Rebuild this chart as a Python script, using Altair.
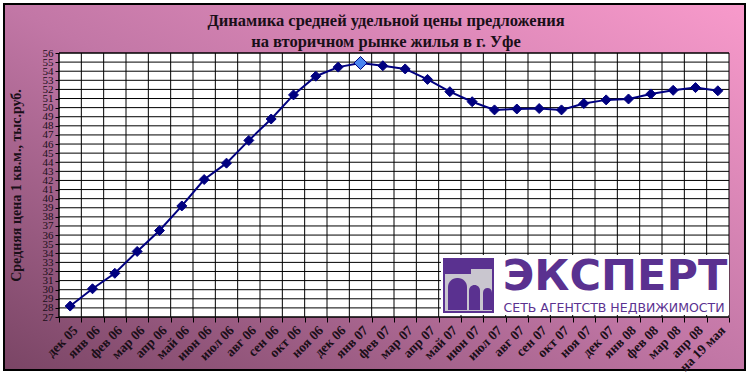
import altair as alt
import pandas as pd

months = ["дек 05", "янв 06", "фев 06", "мар 06", "апр 06", "май 06", "июн 06", "июл 06",
          "авг 06", "сен 06", "окт 06", "ноя 06", "дек 06", "янв 07", "фев 07", "мар 07",
          "апр 07", "май 07", "июн 07", "июл 07", "авг 07", "сен 07", "окт 07", "ноя 07",
          "дек 07", "янв 08", "фев 08", "мар 08", "апр 08", "на 19 мая"]
prices = [28.2, 30.1, 31.8, 34.2, 36.5, 39.2, 42.1, 43.9,
          46.4, 48.75, 51.4, 53.45, 54.45, 54.9, 54.6, 54.25,
          53.1, 51.75, 50.65, 49.75, 49.85, 49.9, 49.75, 50.45,
          50.85, 50.95, 51.5, 51.9, 52.2, 51.85]
y_ticks = list(range(27, 57))
highlight_month = "янв 07"

title_lines = ["Динамика средней удельной цены предложения", "на вторичном рынке жилья в г. Уфе"]
y_title = "Средняя цена 1 кв.м., тыс.руб."
logo_word = "ЭКСПЕРТ"
logo_sub = "СЕТЬ АГЕНТСТВ НЕДВИЖИМОСТИ"

df = pd.DataFrame({"month": months, "price": prices})
one = pd.DataFrame({"a": [0]})

W, H = 670, 264
SERIF = "Liberation Serif"
TXT = "#1a0f18"
NAVY = "#000080"
PURPLE = "#5a3190"

yscale = alt.Scale(domain=[27, 56], nice=False, zero=False)
xscale = alt.Scale(type="band", paddingInner=0, paddingOuter=0)

x_axis = alt.Axis(title=None, labelAngle=-45, labelFont=SERIF, labelFontSize=13.5,
                  labelFontWeight="bold", labelColor=TXT, tickBand="extent",
                  tickColor="black", tickSize=5, domain=False, grid=False, zindex=1,
                  labelPadding=1)
y_axis = alt.Axis(title=y_title, values=y_ticks, labelFont=SERIF, labelFontSize=11,
                  labelColor=TXT, tickColor="black", tickSize=4, domain=False, grid=False,
                  zindex=1, labelOverlap=False, labelPadding=2,
                  titleFont=SERIF, titleFontSize=14, titleFontWeight="bold", titleColor=TXT,
                  titleAngle=-90, titleX=-43, titleY=132, titleAlign="center",
                  titleBaseline="middle")


def xenc(bp):
    return alt.X("month:N", sort=months, scale=xscale, axis=x_axis, bandPosition=bp)


def yenc():
    return alt.Y("price:Q", scale=yscale, axis=y_axis)


grad = alt.Gradient(gradient="linear",
                    stops=[alt.GradientStop(color="#7a4565", offset=0),
                           alt.GradientStop(color="#c277a6", offset=0.5),
                           alt.GradientStop(color="#f89acb", offset=1)],
                    x1=0, y1=1, x2=1, y2=0)

bg = alt.Chart(one).mark_rect(fill=grad, stroke="black", strokeWidth=2).encode(
    x=alt.value(-55), x2=alt.value(686), y=alt.value(-49), y2=alt.value(317))

plot_bg = alt.Chart(one).mark_rect(fill="white").encode(
    x=alt.value(0), x2=alt.value(W), y=alt.value(0), y2=alt.value(H))

hrules = alt.Chart(pd.DataFrame({"price": y_ticks})).mark_rule(
    color="black", strokeWidth=1).encode(y=yenc())

vrules = alt.Chart(pd.DataFrame({"month": months})).mark_rule(
    color="black", strokeWidth=1).encode(x=xenc(0))

frame = alt.Chart(one).mark_rect(fill="transparent", stroke="black", strokeWidth=1).encode(
    x=alt.value(0), x2=alt.value(W), y=alt.value(0), y2=alt.value(H))

line = alt.Chart(df).mark_line(color=NAVY, strokeWidth=2).encode(x=xenc(0.5), y=yenc())

is_hl = alt.datum.month == highlight_month
points = alt.Chart(df).mark_point(shape="diamond", filled=True, opacity=1).encode(
    x=xenc(0.5), y=yenc(),
    fill=alt.condition(is_hl, alt.value("#4a86f0"), alt.value(NAVY)),
    size=alt.condition(is_hl, alt.value(170), alt.value(100)),
    stroke=alt.value(NAVY), strokeWidth=alt.value(1))

# logo
logo_box = alt.Chart(one).mark_rect(fill="white").encode(
    x=alt.value(382), x2=alt.value(W), y=alt.value(202), y2=alt.value(262))
icon = alt.Chart(one).mark_rect(fill="#c9c6cf", stroke=PURPLE, strokeWidth=2).encode(
    x=alt.value(385), x2=alt.value(434), y=alt.value(206), y2=alt.value(259))
icon_top = alt.Chart(one).mark_rect(fill=PURPLE).encode(
    x=alt.value(385), x2=alt.value(434), y=alt.value(206), y2=alt.value(216))
icon_top2 = alt.Chart(one).mark_rect(fill=PURPLE).encode(
    x=alt.value(385), x2=alt.value(412), y=alt.value(216), y2=alt.value(221))
arch1 = alt.Chart(one).mark_rect(fill=PURPLE, cornerRadiusTopLeft=9, cornerRadiusTopRight=9).encode(
    x=alt.value(389), x2=alt.value(408), y=alt.value(225), y2=alt.value(257))
arch2 = alt.Chart(one).mark_rect(fill=PURPLE, cornerRadiusTopLeft=6, cornerRadiusTopRight=6).encode(
    x=alt.value(410), x2=alt.value(421), y=alt.value(232), y2=alt.value(257))
arch3 = alt.Chart(one).mark_rect(fill=PURPLE, cornerRadiusTopLeft=5, cornerRadiusTopRight=5).encode(
    x=alt.value(424), x2=alt.value(433), y=alt.value(235), y2=alt.value(257))
word = alt.Chart(one).mark_text(text=logo_word, font="DejaVu Sans", fontSize=43,
                                fontWeight="bold", color=PURPLE, align="center",
                                baseline="alphabetic").encode(
    x=alt.value(556), y=alt.value(237))
sub = alt.Chart(one).mark_text(text=logo_sub, font="DejaVu Sans", fontSize=12.5,
                               color=PURPLE, align="center", baseline="alphabetic").encode(
    x=alt.value(555), y=alt.value(259))

chart = alt.layer(bg, plot_bg, hrules, vrules, frame, line, points,
                  logo_box, icon, icon_top, icon_top2, arch1, arch2, arch3, word, sub).properties(
    width=W, height=H,
    title=alt.TitleParams(text=title_lines, font=SERIF, fontSize=16.5, fontWeight="bold",
                          color=TXT, anchor="middle", frame="group", offset=0, dy=47,
                          lineHeight=21, dx=-8, zindex=1),
    autosize=alt.AutoSizeParams(type="none"),
    padding={"left": 59, "top": 53, "right": 20, "bottom": 59},
    background="white",
).configure_view(strokeWidth=0)

chart.save("out.html", embed_options={"renderer": "svg", "actions": False})
